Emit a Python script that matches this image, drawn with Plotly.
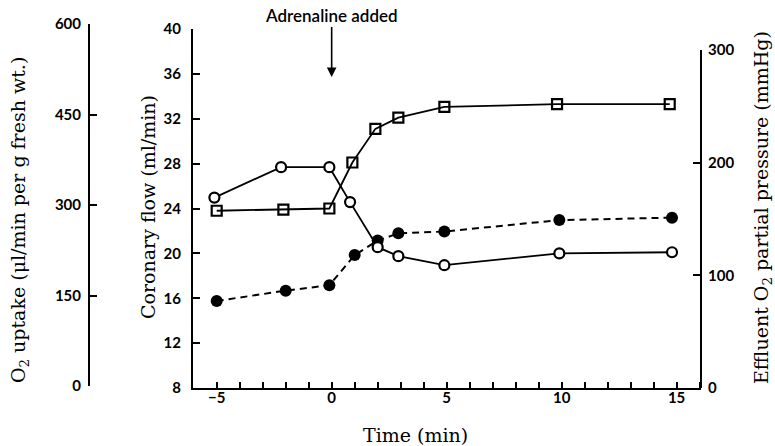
import plotly.graph_objects as go

# ---- data ----
time_flow = [-5.0, -2.1, -0.1, 0.9, 1.9, 2.9, 4.9, 9.8, 14.7]
coronary_flow = [23.8, 23.9, 24.0, 28.1, 31.1, 32.1, 33.05, 33.3, 33.3]

time_uptake = [-5.0, -2.0, -0.1, 1.0, 2.0, 2.9, 4.9, 9.9, 14.8]
o2_uptake = [141, 158, 167, 217, 241, 253, 256, 275, 279]

time_po2 = [-5.1, -2.2, -0.1, 0.8, 2.0, 2.9, 4.9, 9.9, 14.8]
effluent_po2 = [169, 196, 196, 165, 125, 117, 109, 119.5, 120.5]

flow_ticks = [8, 12, 16, 20, 24, 28, 32, 36, 40]
uptake_ticks = [0, 150, 300, 450, 600]
po2_ticks = [0, 100, 200, 300]
time_ticks = [-5, 0, 5, 10, 15]

W, H = 775, 446
def px(x):
    return x / W
def py(y):
    return (H - y) / H

tickfont = dict(family="Lato", size=15, color="black", weight="bold")
titlefont = dict(family="DejaVu Serif", size=19, color="black")

fig = go.Figure()

fig.add_trace(go.Scatter(
    x=time_flow, y=coronary_flow, mode="lines+markers",
    line=dict(color="black", width=1.8),
    marker=dict(symbol="square-open", size=10, color="black", line=dict(width=2.2)),
    xaxis="x", yaxis="y", showlegend=False))

fig.add_trace(go.Scatter(
    x=time_uptake, y=o2_uptake, mode="lines+markers",
    line=dict(color="black", width=2, dash="7px,5px"),
    marker=dict(symbol="circle", size=12, color="black"),
    xaxis="x", yaxis="y2", showlegend=False))

fig.add_trace(go.Scatter(
    x=time_po2, y=effluent_po2, mode="lines+markers",
    line=dict(color="black", width=1.8),
    marker=dict(symbol="circle", size=10, color="white", line=dict(width=2.2, color="black")),
    xaxis="x", yaxis="y3", showlegend=False))

axis_common = dict(showline=True, linecolor="black", linewidth=2, ticks="inside",
                   ticklen=7, tickwidth=2, tickcolor="black", showgrid=False,
                   zeroline=False, tickfont=tickfont, automargin=False)

fig.update_layout(
    template=None,
    width=W, height=H, autosize=False,
    margin=dict(l=0, r=0, t=0, b=0, pad=0),
    paper_bgcolor="white", plot_bgcolor="rgba(0,0,0,0)",
    xaxis=dict(
        domain=[px(193), px(701)], range=[-6.03, 16.06], anchor="y",
        tickvals=time_ticks, showline=True, linecolor="black", linewidth=2,
        ticks="inside", ticklen=6, tickwidth=1.5, tickcolor="black",
        minor=dict(dtick=1, ticks="inside", ticklen=6, tickwidth=1.5, tickcolor="black"),
        showgrid=False, zeroline=False, tickfont=tickfont, ticklabelstandoff=-5,
        automargin=False),
    yaxis=dict(
        domain=[py(388), py(29)], range=[8, 40], anchor="x",
        tickvals=flow_ticks, ticklabelstandoff=7, **axis_common),
    yaxis2=dict(
        domain=[py(386), py(24)], range=[0, 600], anchor="free", position=px(89),
        side="left", tickvals=uptake_ticks, ticklabelstandoff=4, **axis_common),
    yaxis3=dict(
        domain=[py(388), py(50)], range=[0, 300], anchor="free", position=px(701),
        side="right", tickvals=po2_ticks, ticklabelstandoff=3, **axis_common),
    annotations=[
        dict(text="O<sub>2</sub> uptake (μl/min per g fresh wt.)", x=px(19), y=py(220),
             xref="paper", yref="paper", textangle=-90, showarrow=False,
             xanchor="center", yanchor="middle", font=titlefont),
        dict(text="Coronary flow (ml/min)", x=px(148), y=py(207),
             xref="paper", yref="paper", textangle=-90, showarrow=False,
             xanchor="center", yanchor="middle", font=titlefont),
        dict(text="Effluent O<sub>2</sub> partial pressure (mmHg)", x=px(762), y=py(208),
             xref="paper", yref="paper", textangle=-90, showarrow=False,
             xanchor="center", yanchor="middle", font=titlefont),
        dict(text="Time (min)", x=px(415), y=py(435),
             xref="paper", yref="paper", showarrow=False,
             xanchor="center", yanchor="middle", font=titlefont),
        dict(text="Adrenaline added", x=0, y=py(77), xref="x", yref="paper",
             ax=0, ay=-62, showarrow=True, arrowhead=2, arrowsize=1.2, arrowwidth=1.6,
             arrowcolor="black",
             font=dict(family="Lato", size=17, color="black", weight=600)),
    ],
)

fig.write_html("out.html",
               config={"displayModeBar": False},
               post_script="document.body.style.margin='0';document.body.style.padding='0';")
